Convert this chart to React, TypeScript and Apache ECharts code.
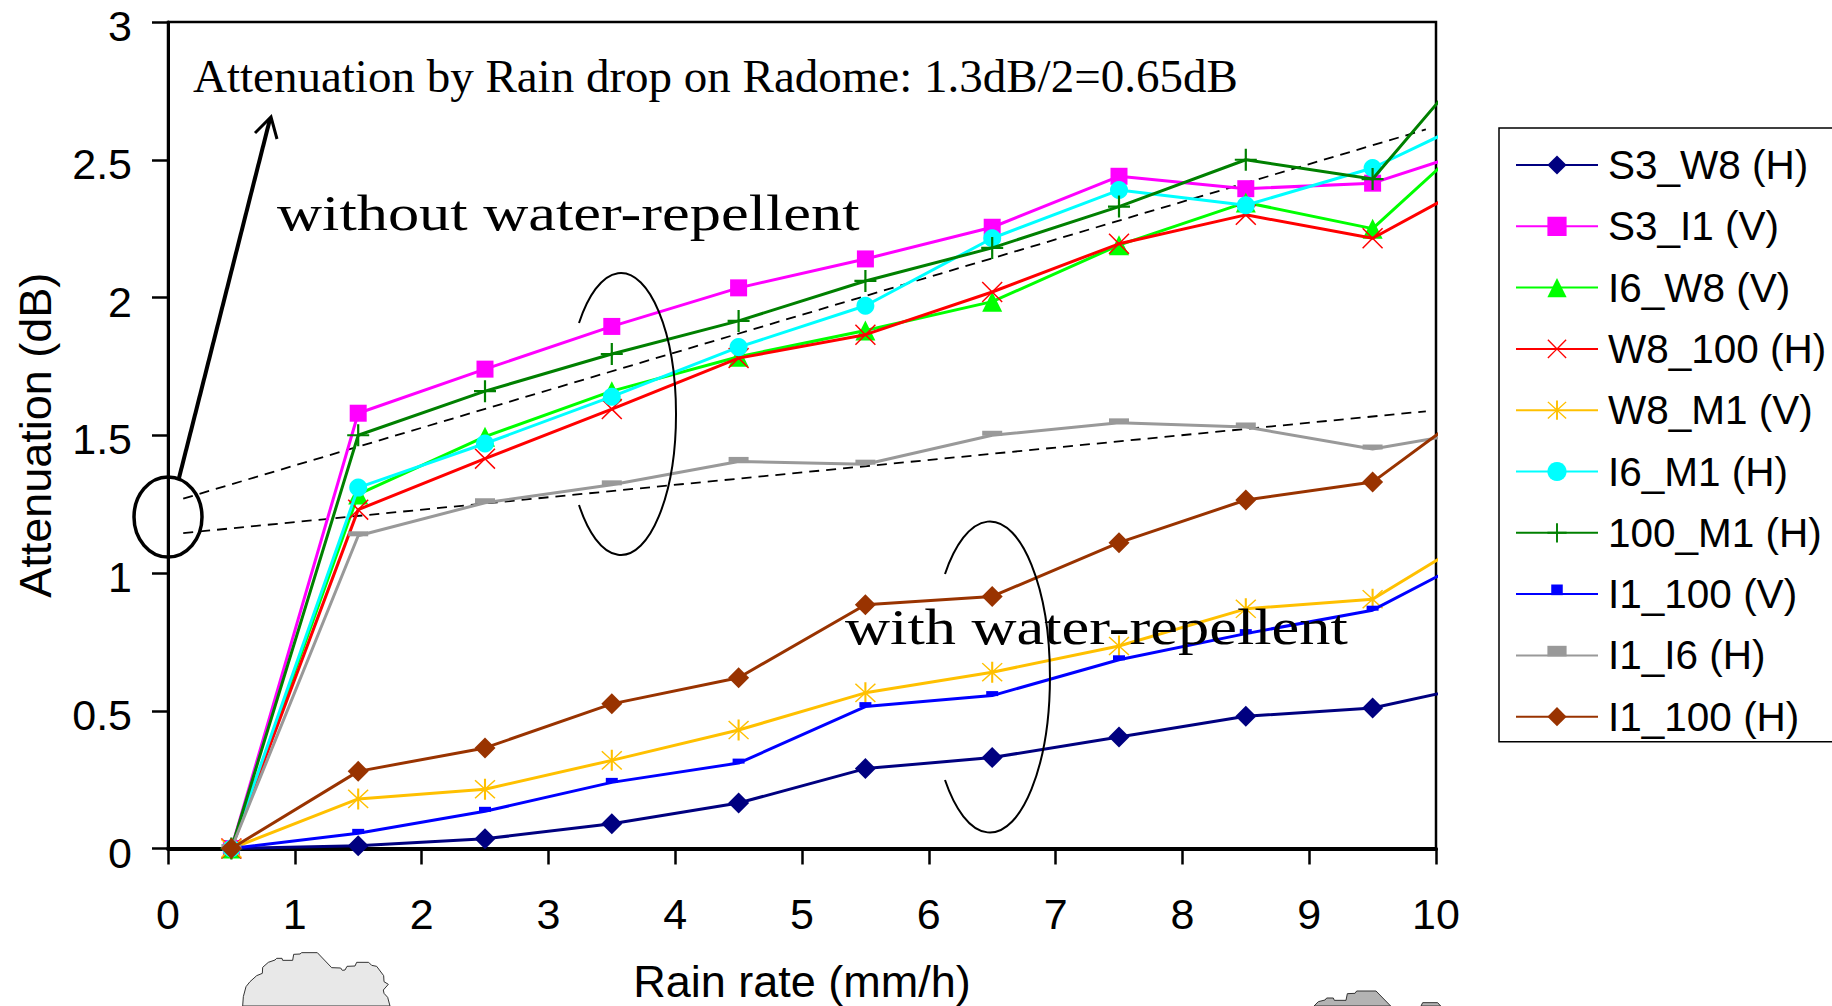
import React, { useEffect, useRef } from "react";
import * as echarts from "echarts";

const rainRates = [0.5, 1.5, 2.5, 3.5, 4.5, 5.5, 6.5, 7.5, 8.5, 9.5, 10.5];
const s3W8H = [0, 0.01, 0.035, 0.09, 0.165, 0.29, 0.33, 0.405, 0.48, 0.51, 0.61];
const s3I1V = [0, 1.58, 1.74, 1.895, 2.035, 2.14, 2.255, 2.44, 2.395, 2.415, 2.565];
const i6W8V = [0, 1.285, 1.495, 1.66, 1.785, 1.88, 1.985, 2.19, 2.345, 2.25, 2.67];
const w8100H = [0, 1.23, 1.415, 1.595, 1.78, 1.865, 2.02, 2.195, 2.3, 2.215, 2.465];
const w8M1V = [0, 0.18, 0.215, 0.32, 0.43, 0.565, 0.64, 0.735, 0.87, 0.905, 1.185];
const i6M1H = [0, 1.31, 1.47, 1.64, 1.82, 1.97, 2.215, 2.39, 2.335, 2.47, 2.69];
const m1100H = [0, 1.5, 1.66, 1.795, 1.915, 2.06, 2.18, 2.33, 2.5, 2.43, 2.97];
const i1100V = [0, 0.055, 0.135, 0.24, 0.31, 0.515, 0.555, 0.685, 0.78, 0.865, 1.105];
const i1I6H = [0, 1.135, 1.255, 1.32, 1.405, 1.395, 1.5, 1.545, 1.53, 1.45, 1.53];
const i1100H = [0, 0.28, 0.365, 0.525, 0.62, 0.885, 0.915, 1.11, 1.265, 1.33, 1.67];
const trendUpper = [[0.12, 1.27], [9.92, 2.61]];
const trendLower = [[0.12, 1.145], [9.92, 1.587]];

const X_PATH = "path://M0 1L1 0L10 9L19 0L20 1L11 10L20 19L19 20L10 11L1 20L0 19L9 10Z";
const STAR_PATH = "path://M0 1L1 0L10 9L19 0L20 1L11 10L20 19L19 20L10 11L1 20L0 19L9 10ZM9 -1H11V21H9Z";
const PLUS_PATH = "path://M9 0H11V9H20V11H11V20H9V11H0V9H9Z";
const BLUE_DASH = "path://M-4 9L-4 9M0 0H12V5H0ZM16 9L16 9";
const GRAY_DASH = "path://M0 9L0 9M0 0H20V5H0ZM20 9L20 9";

const seriesDefs: any[] = [
  { name: "S3_W8 (H)", values: s3W8H, color: "#000080", symbol: "diamond", size: 21 },
  { name: "S3_I1 (V)", values: s3I1V, color: "#FF00FF", symbol: "rect", size: 17 },
  { name: "I6_W8 (V)", values: i6W8V, color: "#00FF00", symbol: "triangle", size: 20 },
  { name: "W8_100 (H)", values: w8100H, color: "#FF0000", symbol: X_PATH, size: 21 },
  { name: "W8_M1 (V)", values: w8M1V, color: "#FFC000", symbol: STAR_PATH, size: 21 },
  { name: "I6_M1 (H)", values: i6M1H, color: "#00FFFF", symbol: "circle", size: 18 },
  { name: "100_M1 (H)", values: m1100H, color: "#008000", symbol: PLUS_PATH, size: 22 },
  { name: "I1_100 (V)", values: i1100V, color: "#0000FF", symbol: BLUE_DASH, size: 20, keep: true },
  { name: "I1_I6 (H)", values: i1I6H, color: "#999999", symbol: GRAY_DASH, size: 20, keep: true },
  { name: "I1_100 (H)", values: i1100H, color: "#993300", symbol: "diamond", size: 21 },
];

const SANS = '"Liberation Sans", Arial, sans-serif';
const SERIF = '"Liberation Serif", "Times New Roman", serif';

const blob1 = [
  [68, 228], [70, 200], [78, 170], [90, 155], [110, 137], [127, 130], [128, 112], [145, 97], [165, 90], [170, 85],
  [186, 85], [188, 91], [218, 91], [221, 73], [240, 72], [245, 68], [292, 68], [335, 113], [362, 114], [367, 121],
  [375, 120], [381, 109], [405, 108], [410, 97], [446, 97], [455, 106], [470, 109], [491, 137], [492, 155], [505, 163],
  [490, 180], [492, 190], [503, 202], [510, 228],
].map(([x, y]) => [220 + x / 3, 930 + y / 3]);
const blob2 = [
  [72, 108], [85, 95], [105, 90], [110, 84], [130, 84], [133, 91], [168, 91], [172, 71], [195, 70], [200, 63], [258, 63], [302, 108],
].map(([x, y]) => [1290 + x / 3, 970 + y / 3]);
const blob3 = [[393, 108], [398, 98], [443, 98], [452, 108]].map(([x, y]) => [1290 + x / 3, 970 + y / 3]);

echarts.graphic.registerShape("arcUpper", echarts.graphic.extendPath("M579 323A55 141 0 1 1 579 505", {}) as any);
echarts.graphic.registerShape("arcLower", echarts.graphic.extendPath("M945 574A60 155.5 0 1 1 945 780", {}) as any);

export default function App() {
  const ref = useRef<HTMLDivElement>(null);
  useEffect(() => {
    document.body.style.margin = "0";
    document.body.style.overflow = "hidden";
    const chart = echarts.init(ref.current!, null, { renderer: "svg" });
    const trendSeries = [trendUpper, trendLower].map((d, i) => ({
      name: "trend" + i,
      type: "line",
      data: d,
      symbol: "none",
      z: 2,
      lineStyle: { color: "#000", width: 1.8, type: [10, 7] },
    }));
    chart.setOption({
      animation: false,
      backgroundColor: "#fff",
      grid: {
        left: 168,
        right: 396,
        top: 22,
        bottom: 157.5,
        show: true,
        borderColor: "#000",
        borderWidth: 2.5,
        containLabel: false,
        outerBoundsMode: "none",
      },
      xAxis: {
        type: "value",
        min: 0,
        max: 10,
        interval: 1,
        name: "Rain rate (mm/h)",
        nameLocation: "middle",
        nameGap: 110,
        nameTextStyle: { fontFamily: SANS, fontSize: 45, color: "#000" },
        axisLine: { show: true, onZero: false, lineStyle: { color: "#000", width: 4 } },
        axisTick: { show: true, length: 16, lineStyle: { color: "#000", width: 2.5 } },
        axisLabel: { fontFamily: SANS, fontSize: 43, color: "#000", margin: 44 },
        splitLine: { show: false },
      },
      yAxis: {
        type: "value",
        min: 0,
        max: 3,
        interval: 0.5,
        name: "Attenuation (dB)",
        nameLocation: "middle",
        nameGap: 110,
        nameTextStyle: { fontFamily: SANS, fontSize: 45, color: "#000" },
        axisLine: { show: true, onZero: false, lineStyle: { color: "#000", width: 3 } },
        axisTick: { show: true, length: 16, lineStyle: { color: "#000", width: 2.5 } },
        axisLabel: { fontFamily: SANS, fontSize: 43, lineHeight: 8, verticalAlign: "top", color: "#000", margin: 36 },
        splitLine: { show: false },
      },
      legend: {
        orient: "vertical",
        left: 1499,
        top: 128,
        padding: [15, 40, 3, 16],
        itemWidth: 82,
        itemHeight: 24,
        itemGap: 17.3,
        backgroundColor: "#fff",
        borderColor: "#000",
        borderWidth: 1.5,
        data: seriesDefs.map((s) => s.name),
        textStyle: { fontFamily: SANS, fontSize: 40.5, color: "#000", lineHeight: 44, padding: [0, 0, 0, 5] },
      },
      series: [
        ...trendSeries,
        ...seriesDefs.map((s, i) => ({
          name: s.name,
          type: "line",
          data: s.values.map((v: number, j: number) => [rainRates[j], v]),
          clip: true,
          symbol: s.symbol,
          symbolSize: s.size,
          symbolKeepAspect: !!s.keep,
          showSymbol: true,
          showAllSymbol: true,
          z: 3 + i,
          lineStyle: { color: s.color, width: 3 },
          itemStyle: { color: s.color, borderWidth: 0 },
        })),
      ],
      graphic: [
        { type: "polygon", z: 50, shape: { points: blob1 }, style: { fill: "#E8E8E8", stroke: "#333", lineWidth: 1 } },
        { type: "polygon", z: 50, shape: { points: blob2 }, style: { fill: "#B3B3B3", stroke: "#333", lineWidth: 1 } },
        { type: "polygon", z: 50, shape: { points: blob3 }, style: { fill: "#B3B3B3", stroke: "#333", lineWidth: 1 } },
        { type: "ellipse", z: 60, shape: { cx: 168, cy: 517, rx: 34, ry: 40 }, style: { fill: "none", stroke: "#000", lineWidth: 3.5 } },
        { type: "line", z: 60, shape: { x1: 179, y1: 478, x2: 270, y2: 119 }, style: { stroke: "#000", lineWidth: 4 } },
        { type: "polyline", z: 60, shape: { points: [[255, 133], [271, 117], [277, 139]] }, style: { fill: "none", stroke: "#000", lineWidth: 3 } },
        { type: "arcUpper", z: 60, style: { fill: "none", stroke: "#000", lineWidth: 2 } },
        { type: "arcLower", z: 60, style: { fill: "none", stroke: "#000", lineWidth: 2 } },
        {
          type: "text", z: 70, x: 193, y: 76,
          style: { text: "Attenuation by Rain drop on Radome: 1.3dB/2=0.65dB", fontFamily: SERIF, fontSize: 47, fill: "#000", align: "left", verticalAlign: "middle" },
        },
        {
          type: "text", z: 70, x: 277, y: 213, scaleX: 1.248,
          style: { text: "without water-repellent", fontFamily: SERIF, fontSize: 50, fill: "#000", align: "left", verticalAlign: "middle" },
        },
        {
          type: "text", z: 70, x: 845, y: 627, scaleX: 1.248,
          style: { text: "with water-repellent", fontFamily: SERIF, fontSize: 50, fill: "#000", align: "left", verticalAlign: "middle" },
        },
      ],
    });
    return () => chart.dispose();
  }, []);
  return <div ref={ref} style={{ width: 1832, height: 1006, overflow: "hidden" }} />;
}
